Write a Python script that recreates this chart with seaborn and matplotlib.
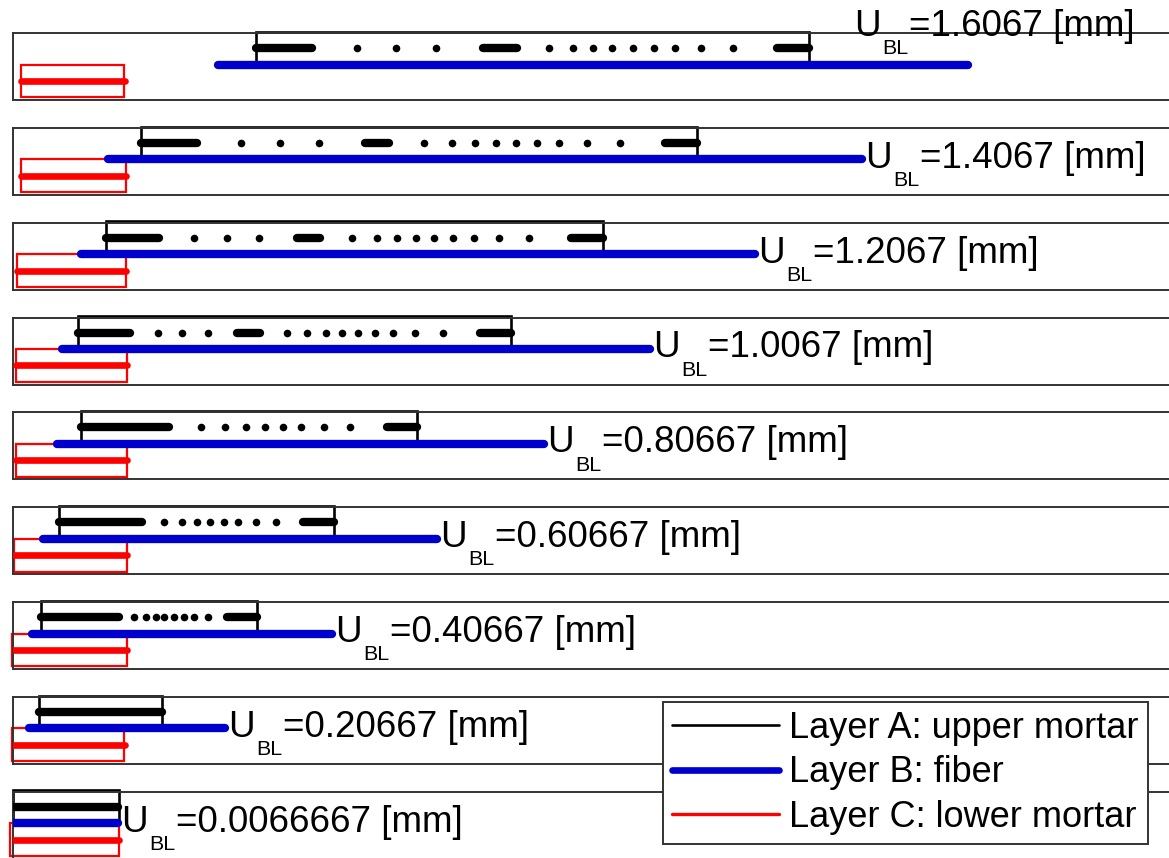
import numpy as np
import pandas as pd
import matplotlib
matplotlib.use("Agg")
import matplotlib.pyplot as plt
from matplotlib.patches import Rectangle
from matplotlib.lines import Line2D
import seaborn as sns

sns.set_theme(style="white")
plt.rcParams["font.family"] = ["Liberation Sans", "DejaVu Sans"]
plt.rcParams["text.color"] = "black"

# Imposed displacement of each deformed-mesh snapshot (top to bottom)
u_bl = [1.6067, 1.4067, 1.2067, 1.0067, 0.80667, 0.60667, 0.40667, 0.20667, 0.0066667]
u_text = ["1.6067", "1.4067", "1.2067", "1.0067", "0.80667",
          "0.60667", "0.40667", "0.20667", "0.0066667"]

# Layer A (upper mortar) extent along the bond
a_start = [24.3, 12.8, 9.3, 6.5, 6.8, 4.6, 2.8, 2.6, 0.0]
a_end = [79.6, 68.4, 59.0, 49.8, 40.4, 32.1, 24.4, 14.9, 10.6]
# Layer B (fiber) extent
b_start = [20.5, 9.5, 6.8, 4.9, 4.4, 3.0, 1.9, 1.6, 0.0]
b_end = [95.5, 84.9, 74.2, 63.7, 53.1, 42.4, 31.9, 21.2, 10.5]
# Layer C (lower mortar) extent
c_start = [0.8, 0.8, 0.4, 0.3, 0.3, 0.1, -0.1, -0.1, -0.3]
c_end = [11.2, 11.3, 11.3, 11.4, 11.4, 11.4, 11.4, 11.2, 10.6]

# Refined node clusters of layer A (first node, last node)
a_clusters = [
    [(24.3, 29.9), (47.0, 50.4), (76.4, 79.6)],
    [(12.8, 18.4), (35.2, 37.6), (65.2, 68.4)],
    [(9.3, 14.6), (28.4, 30.7), (55.8, 59.0)],
    [(6.5, 11.7), (22.4, 24.7), (46.7, 49.8)],
    [(6.8, 15.6), (37.4, 40.4)],
    [(4.6, 12.9), (29.0, 32.1)],
    [(2.8, 10.6), (21.4, 24.4)],
    [(2.6, 14.9)],
    [(0.0, 10.5)],
]
# Isolated nodes of layer A
a_nodes = [
    [34.4, 38.3, 42.3, 53.6, 56.0, 58.0, 59.9, 62.0, 64.1, 66.2, 68.8, 72.0],
    [22.8, 26.7, 30.6, 41.1, 43.9, 46.2, 48.3, 50.3, 52.4, 54.6, 57.4, 60.7],
    [18.1, 21.4, 24.6, 33.9, 36.4, 38.4, 40.3, 42.1, 44.0, 46.1, 48.6, 51.6],
    [14.5, 16.9, 19.5, 27.4, 29.4, 31.3, 32.9, 34.5, 36.2, 38.0, 40.2, 43.0],
    [18.8, 21.2, 23.3, 25.2, 27.0, 28.8, 31.1, 33.7],
    [15.1, 16.9, 18.4, 19.7, 21.1, 22.5, 24.3, 26.3],
    [12.1, 13.3, 14.3, 15.1, 16.1, 17.1, 18.1, 19.5],
    [],
    [],
]

BLACK = "#000000"
BLUE = "#0000cc"
RED = "#ff0000"
FRAME = "#333333"
FS = 26.5
LEG_FS = 26

W, H = 1169, 858
fig = plt.figure(figsize=(W / 100, H / 100), dpi=100)

n = len(u_bl)
top0, pitch, ph = 33.0, 94.84, 67.0
left_px, xmax = 12.5, 116.5
label_limit, lifted_x = 90.0, 83.8


def add_label(ax, x, y, value):
    u = ax.annotate("U", xy=(x, y), xytext=(2.5, 0), textcoords="offset points",
                    ha="left", va="baseline", fontsize=FS, annotation_clip=False)
    sub = ax.annotate("BL", xy=(1, y), xycoords=(u, "data"), xytext=(1.0, -13.2),
                      textcoords="offset points", ha="left", va="baseline",
                      fontsize=FS * 0.58, annotation_clip=False)
    ax.annotate(f"={value} [mm]", xy=(1, y), xycoords=(sub, "data"), xytext=(0.3, 0),
                textcoords="offset points", ha="left", va="baseline",
                fontsize=FS, annotation_clip=False)


for i in range(n):
    top = top0 + i * pitch
    ax = fig.add_axes([left_px / W, 1 - (top + ph) / H, xmax * 10 / W, ph / H])

    # layer C: lower mortar block and its node line
    ax.add_patch(Rectangle((c_start[i], 0), c_end[i] - c_start[i], 1, fill=False,
                           ec=RED, lw=1.6, clip_on=False, zorder=2))
    sns.lineplot(x=[c_start[i], c_end[i]], y=[0.5, 0.5], ax=ax, color=RED, lw=4.8,
                 solid_capstyle="round", estimator=None, sort=False, legend=False,
                 zorder=3)

    # layer A: upper mortar block with its mesh nodes
    ax.add_patch(Rectangle((a_start[i], 1), a_end[i] - a_start[i], 1, fill=False,
                           ec=BLACK, lw=1.9, clip_on=False, zorder=2))
    seg = pd.DataFrame(
        [(k, x0, 1.5) for k, (x0, x1) in enumerate(a_clusters[i])]
        + [(k, x1, 1.5) for k, (x0, x1) in enumerate(a_clusters[i])],
        columns=["seg", "x", "y"])
    sns.lineplot(data=seg, x="x", y="y", units="seg", estimator=None, sort=False,
                 ax=ax, color=BLACK, lw=6, solid_capstyle="round", legend=False,
                 zorder=3)
    if a_nodes[i]:
        sns.scatterplot(x=a_nodes[i], y=[1.5] * len(a_nodes[i]), ax=ax, color=BLACK,
                        s=30, linewidth=0, legend=False, zorder=3)

    # layer B: fiber
    sns.lineplot(x=[b_start[i], b_end[i]], y=[1.0, 1.0], ax=ax, color=BLUE, lw=6,
                 solid_capstyle="round", estimator=None, sort=False, legend=False,
                 zorder=4)

    # displacement label at the pulled end of the fiber; lifted above the
    # panel when it would run past the right side
    if b_end[i] > label_limit:
        add_label(ax, lifted_x, 1.88, u_text[i])
    else:
        add_label(ax, b_end[i], 0.745, u_text[i])

    ax.set_xlim(0, xmax)
    ax.set_ylim(-0.08, 1.96)
    ax.set_xticks([])
    ax.set_yticks([])
    ax.set(xlabel="", ylabel="")
    for sp in ax.spines.values():
        sp.set_visible(True)
        sp.set_color(FRAME)
        sp.set_linewidth(1.4)

handles = [Line2D([], [], color=BLACK, lw=1.9),
           Line2D([], [], color=BLUE, lw=4.8),
           Line2D([], [], color=RED, lw=2.4)]
labels = ["Layer A: upper mortar", "Layer B: fiber", "Layer C: lower mortar"]
leg = fig.legend(handles, labels, loc="upper left",
                 bbox_to_anchor=(662.7 / W, 1 - 701.7 / H), borderaxespad=0,
                 fontsize=LEG_FS, handlelength=2.96, handletextpad=0.27,
                 borderpad=0.26, labelspacing=0.26, fancybox=False, framealpha=1,
                 edgecolor=FRAME)
leg.get_frame().set_linewidth(1.4)

fig.savefig("out.png", dpi=100)
